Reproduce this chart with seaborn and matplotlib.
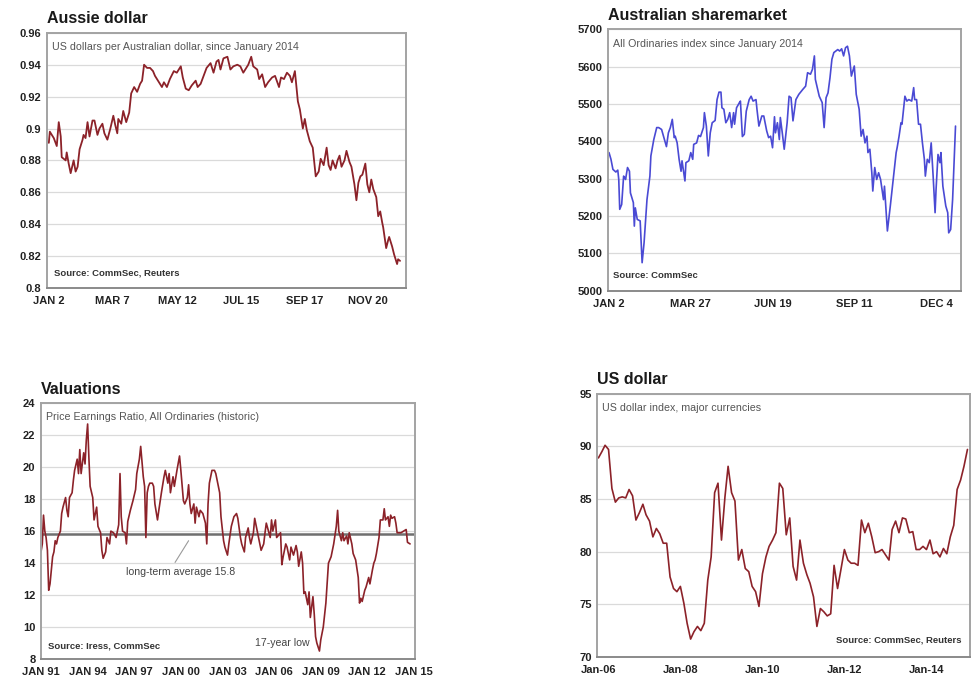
import pandas as pd
import matplotlib.pyplot as plt
import matplotlib.dates as mdates
import seaborn as sns

sns.set_style("white")
plt.rcParams["font.family"] = ["Liberation Sans", "DejaVu Sans"]

# Aussie dollar, US dollars per A$, 2014 (month-day)
aud_dates = [
    "01-02", "01-03", "01-07", "01-10", "01-12", "01-14", "01-15", "01-19", "01-20", "01-22", "01-24", "01-27", "01-29", "01-31",
    "02-02", "02-05", "02-06", "02-08", "02-10", "02-12", "02-15", "02-17", "02-20", "02-22", "02-25", "02-27",
    "03-02", "03-05", "03-08", "03-10", "03-12", "03-13", "03-16", "03-18", "03-21", "03-24", "03-26", "03-29",
    "04-01", "04-04", "04-06", "04-08", "04-11", "04-14", "04-17", "04-19", "04-23", "04-26", "04-28",
    "05-01", "05-04", "05-08", "05-11", "05-15", "05-17", "05-20", "05-23", "05-26", "05-30",
    "06-01", "06-04", "06-07", "06-10", "06-14", "06-17", "06-20", "06-22", "06-24", "06-27",
    "07-01", "07-04", "07-07", "07-11", "07-14", "07-17", "07-19", "07-22", "07-25", "07-27", "07-31",
    "08-02", "08-05", "08-08", "08-11", "08-15", "08-18", "08-22", "08-24", "08-27", "08-30",
    "09-02", "09-04", "09-07", "09-10", "09-12", "09-15", "09-17", "09-19", "09-22", "09-25", "09-27", "09-28",
    "10-01", "10-03", "10-06", "10-09", "10-11", "10-13", "10-15", "10-18", "10-20", "10-22", "10-24", "10-27", "10-29",
    "11-01", "11-03", "11-06", "11-08", "11-10", "11-12", "11-14", "11-17", "11-19", "11-21", "11-23", "11-25", "11-28", "11-30",
    "12-02", "12-04", "12-05", "12-08", "12-10", "12-11", "12-14", "12-16", "12-19", "12-20", "12-22",
]
aud_values = [
    0.891, 0.898, 0.894, 0.889, 0.904, 0.895, 0.882, 0.880, 0.885, 0.878, 0.872, 0.880, 0.873, 0.876,
    0.887, 0.893, 0.896, 0.894, 0.904, 0.895, 0.905, 0.905, 0.896, 0.900, 0.903, 0.897,
    0.893, 0.900, 0.908, 0.902, 0.897, 0.906, 0.903, 0.911, 0.904, 0.910, 0.922, 0.926,
    0.923, 0.928, 0.930, 0.940, 0.938, 0.938, 0.936, 0.933, 0.929, 0.926, 0.929,
    0.926, 0.931, 0.936, 0.935, 0.939, 0.932, 0.925, 0.924, 0.927, 0.930,
    0.926, 0.928, 0.933, 0.938, 0.941, 0.935, 0.942, 0.943, 0.937, 0.944,
    0.945, 0.937, 0.939, 0.940, 0.939, 0.935, 0.937, 0.940, 0.945, 0.939, 0.937,
    0.931, 0.934, 0.926, 0.929, 0.932, 0.933, 0.926, 0.932, 0.931, 0.935,
    0.933, 0.929, 0.936, 0.917, 0.912, 0.900, 0.906, 0.899, 0.892, 0.888, 0.876, 0.870,
    0.873, 0.881, 0.877, 0.888, 0.877, 0.874, 0.880, 0.875, 0.880, 0.883, 0.876, 0.880, 0.886,
    0.879, 0.876, 0.865, 0.855, 0.866, 0.870, 0.871, 0.878, 0.865, 0.860, 0.868, 0.862, 0.857, 0.845,
    0.848, 0.841, 0.838, 0.825, 0.830, 0.832, 0.826, 0.821, 0.815, 0.818, 0.817,
]
aud_ticks = ["2014-01-02", "2014-03-07", "2014-05-12", "2014-07-15", "2014-09-17", "2014-11-20"]
aud_tick_labels = ["JAN 2", "MAR 7", "MAY 12", "JUL 15", "SEP 17", "NOV 20"]
aud_yticks = [0.80, 0.82, 0.84, 0.86, 0.88, 0.90, 0.92, 0.94, 0.96]
aud_ylabels = ["0.8", "0.82", "0.84", "0.86", "0.88", "0.9", "0.92", "0.94", "0.96"]

# All Ordinaries index, 2014 (month-day)
asx_dates = [
    "01-02", "01-04", "01-06", "01-09", "01-11", "01-12", "01-13", "01-15", "01-17", "01-18", "01-19", "01-21", "01-23", "01-24", "01-26", "01-27", "01-28", "01-29", "01-31",
    "02-03", "02-05", "02-07", "02-10", "02-13", "02-14", "02-17", "02-20", "02-22", "02-25", "02-28",
    "03-02", "03-04", "03-06", "03-08", "03-10", "03-11", "03-13", "03-15", "03-17", "03-18", "03-21", "03-22", "03-25", "03-27", "03-29", "03-30",
    "04-02", "04-04", "04-06", "04-09", "04-10", "04-12", "04-14", "04-16", "04-18", "04-21", "04-23", "04-25", "04-27", "04-28", "04-30",
    "05-02", "05-04", "05-06", "05-08", "05-10", "05-11", "05-13", "05-16", "05-17", "05-19", "05-21", "05-23", "05-26", "05-28", "05-30",
    "06-02", "06-03", "06-05", "06-08", "06-10", "06-13", "06-15", "06-17", "06-19", "06-21", "06-22", "06-24", "06-26", "06-27", "06-29",
    "07-01", "07-04", "07-06", "07-08", "07-10", "07-13", "07-16", "07-20", "07-23", "07-25", "07-28", "07-30",
    "08-01", "08-02", "08-06", "08-09", "08-11", "08-13", "08-15", "08-17", "08-19", "08-21", "08-25", "08-27", "08-29", "08-31",
    "09-02", "09-04", "09-06", "09-08", "09-11", "09-13", "09-16", "09-18", "09-20", "09-22", "09-24", "09-25", "09-27", "09-29", "09-30",
    "10-02", "10-04", "10-06", "10-08", "10-11", "10-12", "10-15", "10-18", "10-21", "10-24", "10-25", "10-27", "10-29", "10-30",
    "11-02", "11-04", "11-06", "11-09", "11-11", "11-12", "11-14", "11-16", "11-18", "11-20", "11-22", "11-23", "11-25", "11-27", "11-29",
    "12-01", "12-03", "12-04", "12-06", "12-08", "12-09", "12-11", "12-14", "12-16", "12-17", "12-19", "12-21", "12-24",
]
asx_values = [
    5370, 5352, 5325, 5318, 5323, 5298, 5218, 5231, 5307, 5303, 5298, 5330, 5320, 5262, 5244, 5236, 5173, 5222, 5191,
    5187, 5075, 5128, 5244, 5307, 5361, 5405, 5437, 5437, 5432, 5405,
    5386, 5423, 5437, 5459, 5410, 5414, 5396, 5352, 5320, 5348, 5294, 5343, 5348, 5370, 5352, 5392,
    5396, 5416, 5413, 5437, 5477, 5441, 5361, 5423, 5450, 5456, 5512, 5532, 5532, 5490, 5486,
    5450, 5459, 5477, 5437, 5477, 5446, 5490, 5504, 5508, 5413, 5419, 5481, 5512, 5521, 5508,
    5512, 5486, 5441, 5468, 5468, 5428, 5410, 5414, 5383, 5466, 5423, 5450, 5405, 5464, 5423,
    5379, 5450, 5521, 5517, 5455, 5512, 5526, 5539, 5548, 5584, 5580, 5593,
    5629, 5566, 5521, 5504, 5437, 5517, 5530, 5570, 5620, 5638, 5646, 5642, 5648, 5629,
    5651, 5655, 5629, 5575, 5602, 5526, 5486, 5414, 5432, 5396, 5414, 5370, 5379, 5316, 5267,
    5330, 5298, 5316, 5298, 5244, 5280, 5160, 5227, 5298, 5370, 5383, 5414, 5450, 5446,
    5521, 5508, 5512, 5508, 5544, 5512, 5512, 5446, 5446, 5396, 5352, 5307, 5352, 5343, 5396,
    5307, 5209, 5271, 5365, 5343, 5370, 5280, 5227, 5209, 5155, 5164, 5244, 5441,
]
asx_ticks = ["2014-01-02", "2014-03-27", "2014-06-19", "2014-09-11", "2014-12-04"]
asx_tick_labels = ["JAN 2", "MAR 27", "JUN 19", "SEP 11", "DEC 4"]
asx_yticks = [5000, 5100, 5200, 5300, 5400, 5500, 5600, 5700]

# Price earnings ratio, All Ordinaries (year-month)
pe_months = [
    "1991-01", "1991-02", "1991-03", "1991-04", "1991-05", "1991-06", "1991-07", "1991-08", "1991-09", "1991-10", "1991-11", "1991-12",
    "1992-01", "1992-02", "1992-04", "1992-05", "1992-06", "1992-08", "1992-09", "1992-10", "1992-11",
    "1993-01", "1993-02", "1993-03", "1993-05", "1993-06", "1993-07", "1993-08", "1993-10", "1993-11", "1993-12",
    "1994-01", "1994-02", "1994-03", "1994-05", "1994-06", "1994-07", "1994-08", "1994-09", "1994-11", "1994-12",
    "1995-01", "1995-03", "1995-04", "1995-06", "1995-07", "1995-09", "1995-11",
    "1996-01", "1996-02", "1996-03", "1996-04", "1996-06", "1996-07", "1996-08", "1996-10", "1996-12",
    "1997-02", "1997-03", "1997-05", "1997-06", "1997-08", "1997-09", "1997-10", "1997-11", "1997-12",
    "1998-01", "1998-03", "1998-04", "1998-05", "1998-07", "1998-08", "1998-10", "1998-12",
    "1999-01", "1999-03", "1999-04", "1999-05", "1999-07", "1999-08", "1999-10", "1999-12",
    "2000-01", "2000-03", "2000-04", "2000-06", "2000-07", "2000-08", "2000-09", "2000-11", "2000-12",
    "2001-01", "2001-03", "2001-04", "2001-06", "2001-08", "2001-09", "2001-10", "2001-11",
    "2002-01", "2002-03", "2002-04", "2002-06", "2002-07", "2002-08", "2002-10", "2002-11",
    "2003-01", "2003-02", "2003-04", "2003-06", "2003-08", "2003-09", "2003-11", "2003-12",
    "2004-02", "2004-03", "2004-05", "2004-06", "2004-07", "2004-09", "2004-10", "2004-12",
    "2005-02", "2005-03", "2005-05", "2005-06", "2005-07", "2005-09", "2005-10", "2005-11", "2005-12",
    "2006-02", "2006-03", "2006-04", "2006-06", "2006-07", "2006-08", "2006-10", "2006-11",
    "2007-01", "2007-02", "2007-04", "2007-06", "2007-07", "2007-08", "2007-10", "2007-11", "2007-12",
    "2008-01", "2008-03", "2008-04", "2008-05", "2008-07", "2008-08", "2008-09", "2008-10", "2008-12",
    "2009-01", "2009-03", "2009-05", "2009-07", "2009-09", "2009-11",
    "2010-01", "2010-02", "2010-03", "2010-05", "2010-06", "2010-07", "2010-09", "2010-10", "2010-11",
    "2011-01", "2011-02", "2011-04", "2011-06", "2011-07", "2011-08", "2011-09", "2011-11", "2011-12",
    "2012-02", "2012-03", "2012-05", "2012-06", "2012-07", "2012-08", "2012-10", "2012-11",
    "2013-01", "2013-02", "2013-03", "2013-05", "2013-06", "2013-07", "2013-08", "2013-10", "2013-11", "2013-12",
    "2014-03", "2014-05", "2014-07", "2014-08", "2014-10",
]
pe_values = [
    14.7, 15.2, 17.0, 16.0, 15.6, 14.8, 12.3, 12.7, 13.6, 14.4, 14.7, 15.4,
    15.2, 15.6, 16.0, 17.1, 17.5, 18.1, 17.3, 16.9, 18.1,
    18.4, 19.2, 19.8, 20.5, 19.6, 21.1, 19.6, 20.9, 20.2, 21.7,
    22.7, 20.5, 18.8, 18.1, 16.7, 17.1, 17.5, 16.3, 15.9, 14.8,
    14.3, 14.7, 15.6, 15.2, 16.0, 15.9, 15.6,
    16.4, 19.6, 16.9, 16.0, 15.9, 15.2, 16.6, 17.3, 17.9,
    18.6, 19.6, 20.5, 21.3, 19.4, 18.8, 15.6, 18.4, 18.8,
    19.0, 19.0, 18.8, 17.7, 16.7, 17.3, 18.4, 19.4,
    19.8, 19.0, 19.6, 18.4, 19.4, 18.8, 19.8, 20.7,
    19.8, 17.9, 17.7, 18.1, 18.9, 17.7, 17.1, 17.7, 16.5,
    17.5, 16.9, 17.3, 17.1, 16.5, 15.2, 17.7, 19.0,
    19.8, 19.8, 19.6, 18.8, 18.4, 16.9, 15.4, 15.0,
    14.5, 15.2, 16.3, 16.9, 17.1, 16.8, 15.6, 15.2,
    14.7, 15.6, 16.2, 15.6, 15.2, 15.9, 16.8, 16.0,
    15.2, 14.8, 15.2, 15.9, 16.5, 15.9, 15.6, 16.7, 16.0,
    16.7, 15.6, 15.7, 15.9, 13.9, 14.4, 15.2, 15.0,
    14.2, 15.0, 14.5, 15.1, 14.7, 13.8, 14.7, 14.0, 12.1,
    12.2, 11.4, 12.2, 10.6, 11.9, 10.8, 9.4, 9.0, 8.5,
    9.2, 10.0, 11.5, 14.0, 14.4, 15.2,
    16.3, 17.3, 16.0, 15.4, 15.9, 15.4, 15.7, 15.2, 15.9,
    15.2, 14.6, 14.2, 13.1, 11.5, 11.8, 11.6, 12.3, 12.5,
    13.1, 12.7, 13.6, 14.0, 14.2, 14.6, 15.6, 16.7,
    16.7, 17.4, 16.7, 16.9, 16.3, 17.0, 16.8, 16.9, 16.5, 15.9,
    15.9, 16.0, 16.1, 15.3, 15.2,
]
pe_average = 15.8
pe_ticks = ["1991-01-01", "1994-01-01", "1997-01-01", "2000-01-01", "2003-01-01",
            "2006-01-01", "2009-01-01", "2012-01-01", "2015-01-01"]
pe_tick_labels = ["JAN 91", "JAN 94", "JAN 97", "JAN 00", "JAN 03", "JAN 06", "JAN 09", "JAN 12", "JAN 15"]
pe_yticks = [8, 10, 12, 14, 16, 18, 20, 22, 24]

# US dollar index, monthly from Jan 2006
usd_values = [
    88.9, 89.5, 90.1, 89.7, 86.0, 84.7, 85.1, 85.2, 85.1, 85.9, 85.3, 83.0,
    83.7, 84.5, 83.5, 82.9, 81.4, 82.2, 81.7, 80.8, 80.8, 77.6, 76.5, 76.2,
    76.7, 75.1, 73.2, 71.7, 72.4, 72.9, 72.5, 73.2, 77.3, 79.5, 85.6, 86.5,
    81.1, 85.2, 88.1, 85.6, 84.8, 79.2, 80.2, 78.4, 78.1, 76.7, 76.2, 74.8,
    77.9, 79.5, 80.5, 81.1, 81.8, 86.5, 86.0, 81.6, 83.2, 78.6, 77.3, 81.1,
    78.9, 77.8, 77.0, 75.7, 72.9, 74.6, 74.3, 73.9, 74.1, 78.7, 76.5, 78.3,
    80.2, 79.2, 78.9, 78.9, 78.7, 83.0, 81.8, 82.7, 81.4, 79.9, 80.0, 80.2,
    79.7, 79.2, 82.1, 82.9, 81.8, 83.2, 83.1, 81.8, 81.9, 80.2, 80.2, 80.5,
    80.2, 81.1, 79.8, 80.0, 79.5, 80.3, 79.8, 81.4, 82.5, 85.9, 86.8, 88.1,
    89.7,
]
usd_ticks = ["2006-01-01", "2008-01-01", "2010-01-01", "2012-01-01", "2014-01-01"]
usd_tick_labels = ["Jan-06", "Jan-08", "Jan-10", "Jan-12", "Jan-14"]
usd_yticks = [70, 75, 80, 85, 90, 95]

MAROON = "#8c2229"
BLUE = "#4a4ad4"


def style_panel(ax, title, subtitle, xticks, xlabels, yticks, ylabels, minor):
    ax.set_xlabel("")
    ax.set_ylabel("")
    for s in ax.spines.values():
        s.set_color("#a3a3a3")
        s.set_linewidth(1.4)
    ax.spines["bottom"].set_color("#8a8a8a")
    ax.grid(axis="y", color="#dadada", lw=0.9)
    ax.grid(axis="x", visible=False)
    ax.set_axisbelow(True)
    ax.set_xticks(pd.to_datetime(xticks))
    ax.set_xticklabels(xlabels, fontweight="bold", fontsize=8, color="#222")
    ax.set_yticks(yticks)
    ax.set_yticklabels(ylabels, fontweight="bold", fontsize=8, color="#222")
    ax.set_ylim(yticks[0], yticks[-1])
    ax.xaxis.set_minor_locator(minor)
    ax.tick_params(axis="y", which="major", length=0, pad=4)
    ax.tick_params(axis="x", which="major", length=0, pad=6)
    ax.tick_params(axis="x", which="minor", direction="in", length=3, width=0.8, color="#8a8a8a")
    ax.text(0.0, 1.025, title, transform=ax.transAxes, fontsize=11.5,
            fontweight="bold", color="#1a1a1a", ha="left", va="bottom")
    ax.text(0.013, 0.965, subtitle, transform=ax.transAxes, fontsize=7.7,
            color="#555555", ha="left", va="top")


fig = plt.figure(figsize=(9.76, 6.84), dpi=100)
fig.patch.set_facecolor("white")

# Aussie dollar
ax1 = fig.add_axes([0.048, 0.579, 0.368, 0.373])
sns.lineplot(x=pd.to_datetime(["2014-" + d for d in aud_dates]), y=aud_values,
             ax=ax1, color=MAROON, lw=1.3)
ax1.set_xlim(pd.Timestamp("2013-12-31"), pd.Timestamp("2014-12-28"))
style_panel(ax1, "Aussie dollar", "US dollars per Australian dollar, since January 2014",
            aud_ticks, aud_tick_labels, aud_yticks, aud_ylabels, mdates.DayLocator(interval=3))
ax1.text(0.02, 0.06, "Source: CommSec, Reuters", transform=ax1.transAxes,
         fontsize=6.8, fontweight="bold", color="#333", va="center")

# Australian sharemarket
ax2 = fig.add_axes([0.623, 0.575, 0.362, 0.382])
sns.lineplot(x=pd.to_datetime(["2014-" + d for d in asx_dates]), y=asx_values,
             ax=ax2, color=BLUE, lw=1.2)
ax2.set_xlim(pd.Timestamp("2014-01-01"), pd.Timestamp("2014-12-30"))
style_panel(ax2, "Australian sharemarket", "All Ordinaries index since January 2014",
            asx_ticks, asx_tick_labels, asx_yticks, [str(v) for v in asx_yticks],
            mdates.DayLocator(interval=3))
ax2.text(0.013, 0.057, "Source: CommSec", transform=ax2.transAxes,
         fontsize=6.8, fontweight="bold", color="#333", va="center")

# Valuations
ax3 = fig.add_axes([0.042, 0.0365, 0.383, 0.374])
ax3.axhline(pe_average, color="#6f6f6f", lw=1.8, zorder=1.5)
sns.lineplot(x=pd.to_datetime(pe_months), y=pe_values, ax=ax3, color=MAROON, lw=1.2)
ax3.set_xlim(pd.Timestamp("1991-01-01"), pd.Timestamp("2015-01-20"))
style_panel(ax3, "Valuations", "Price Earnings Ratio, All Ordinaries (historic)",
            pe_ticks, pe_tick_labels, pe_yticks, [str(v) for v in pe_yticks],
            mdates.MonthLocator())
ax3.annotate(f"long-term average {pe_average}", xy=(pd.Timestamp("2000-07-01"), 15.4),
             xytext=(pd.Timestamp("1996-07-01"), 13.45), fontsize=7.6, color="#444",
             va="center", ha="left",
             arrowprops=dict(arrowstyle="-", color="#9a9a9a", lw=0.8,
                             relpos=(0.42, 1.0), shrinkA=1, shrinkB=0))
ax3.text(pd.Timestamp("2004-10-01"), 9.0, "17-year low", fontsize=7.6, color="#444",
         ha="left", va="center")
ax3.text(0.02, 0.05, "Source: Iress, CommSec", transform=ax3.transAxes,
         fontsize=6.8, fontweight="bold", color="#333", va="center")

# US dollar
ax4 = fig.add_axes([0.612, 0.0395, 0.382, 0.385])
usd_dates = pd.date_range("2006-01-01", periods=len(usd_values), freq="MS")
sns.lineplot(x=usd_dates, y=usd_values, ax=ax4, color=MAROON, lw=1.2)
ax4.set_xlim(pd.Timestamp("2005-12-22"), pd.Timestamp("2015-01-25"))
style_panel(ax4, "US dollar", "US dollar index, major currencies",
            usd_ticks, usd_tick_labels, usd_yticks, [str(v) for v in usd_yticks],
            mdates.MonthLocator())
ax4.text(0.978, 0.066, "Source: CommSec, Reuters", transform=ax4.transAxes,
         fontsize=6.8, fontweight="bold", color="#333", va="center", ha="right")

fig.savefig("out.png", dpi=100, facecolor="white")
